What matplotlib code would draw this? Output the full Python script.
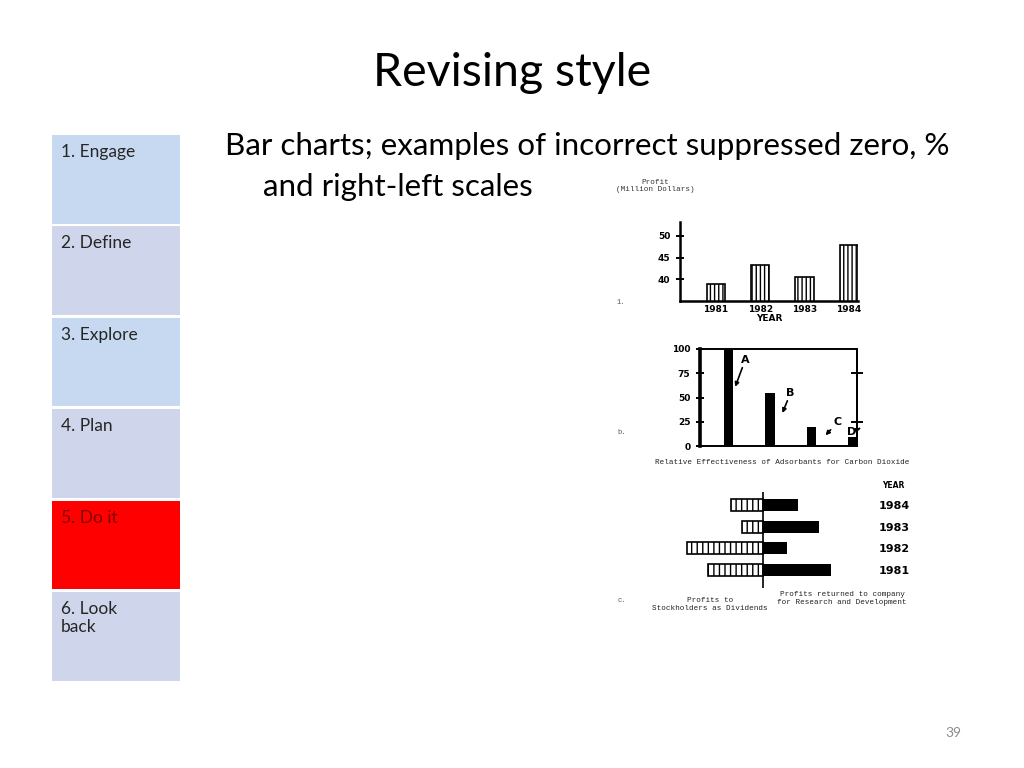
import matplotlib.pyplot as plt
from matplotlib.patches import Rectangle

W, H = 1024, 768

# sidebar steps
steps = ['1. Engage', '2. Define', '3. Explore', '4. Plan', '5. Do it', '6. Look\nback']
step_colors = ['#c6d9f1', '#cfd5ea', '#c6d9f1', '#cfd5ea', '#ff0000', '#cfd5ea']
step_text = ['#262626', '#262626', '#262626', '#262626', '#800000', '#262626']

# chart a: profit with suppressed zero
years = ['1981', '1982', '1983', '1984']
profit = [38.9, 43.4, 40.6, 47.8]

# chart b: percent scale
adsorbents = ['A', 'B', 'C', 'D']
effectiveness = [100, 55, 20, 9]

# chart c: right-left scales (1981..1984)
dividends = [13.75, 19.0, 5.25, 8.0]
research = [17.0, 6.0, 14.0, 8.75]

sans = 'Lato'
mono = 'Liberation Mono'


def rect(l, t, r, b):
    # pixel box -> figure fraction
    return [l / W, 1 - b / H, (r - l) / W, (b - t) / H]


fig = plt.figure(figsize=(W / 100, H / 100), dpi=100)
fig.patch.set_facecolor('white')

bg = fig.add_axes([0, 0, 1, 1])
bg.set_xlim(0, W)
bg.set_ylim(H, 0)
bg.axis('off')

for i, (label, fc, tc) in enumerate(zip(steps, step_colors, step_text)):
    top = 135 + i * 91.4
    bg.add_patch(Rectangle((52, top), 128, 88.5, fc=fc, ec='none'))
    bg.text(61, top + 9, label, va='top', ha='left', fontsize=12.5,
            color=tc, family=sans, linespacing=1.15)

bg.text(512, 73, 'Revising style', ha='center', va='center', fontsize=33.5, family=sans, color='black')
bg.text(225, 146, 'Bar charts; examples of incorrect suppressed zero, %', ha='left', va='center',
        fontsize=22.6, family=sans, color='black')
bg.text(263, 187, 'and right-left scales', ha='left', va='center',
        fontsize=22.6, family=sans, color='black')
bg.text(953, 733, '39', ha='center', va='center', fontsize=10, family=sans, color='#8c8c8c')

# scan labels
for y, s in [(302, '1.'), (432, 'b.'), (600, 'c.')]:
    bg.text(617, y, s, ha='left', va='center', fontsize=5, family=mono, color='#555555')

bg.text(655, 186, 'Profit\n(Million Dollars)', ha='center', va='center', fontsize=5.5,
        family=mono, color='#333333', linespacing=1.1)

# --- chart a ---
ax1 = fig.add_axes(rect(680, 222, 858, 301))
x = range(len(years))
ax1.bar(x, profit, width=0.41, color='white', edgecolor='black', linewidth=1.2,
        hatch='||||')
ax1.set_ylim(35, 53.2)
ax1.set_xlim(-0.81, 3.21)
ax1.spines[['top', 'right']].set_visible(False)
ax1.spines[['left', 'bottom']].set_linewidth(1.8)
ax1.set_yticks([40, 45, 50])
ax1.set_yticklabels(['40', '45', '50'], fontsize=6.5, fontweight='bold')
ax1.tick_params(axis='y', direction='inout', length=6, width=1.4, pad=4)
ax1.set_xticks(list(x))
ax1.set_xticklabels(years, fontsize=6.5, fontweight='bold')
ax1.tick_params(axis='x', length=0, pad=3)
ax1.set_xlabel('YEAR', fontsize=6.5, fontweight='bold', labelpad=0)
ax1.patch.set_alpha(0)

# --- chart b ---
ax2 = fig.add_axes(rect(700, 349, 857, 446))
ax2.bar(range(len(adsorbents)), effectiveness, width=0.22, color='black')
ax2.set_ylim(0, 100)
ax2.set_xlim(-0.69, 3.1)
for sp in ax2.spines.values():
    sp.set_linewidth(1.4)
ax2.spines['left'].set_linewidth(2.6)
ax2.set_xticks([])
ax2.set_yticks([0, 25, 50, 75, 100])
ax2.set_yticklabels(['0', '25', '50', '75', '100'], fontsize=6.5, fontweight='bold')
ax2.tick_params(axis='y', direction='inout', length=6, width=1.4, pad=4)
sec = ax2.secondary_yaxis('right')
sec.set_yticks([25, 75])
sec.set_yticklabels([])
sec.tick_params(direction='inout', length=8, width=1.4)
sec.spines['right'].set_linewidth(1.4)

# arrow tip relative to each bar (x shift, drop below top) and label offset in points
tip_dx = [0.16, 0.3, 0.34, 0.18]
tip_drop = [39, 21, 9, -9.5]
label_offsets = [(7.2, 19.4), (5.8, 14.4), (8.6, 9.4), (-6, -3)]
for i, (name, val) in enumerate(zip(adsorbents, effectiveness)):
    ax2.annotate(name, xy=(i + tip_dx[i], val - tip_drop[i]), xycoords='data',
                 xytext=label_offsets[i], textcoords='offset points',
                 ha='center', va='center', fontsize=8, fontweight='bold',
                 annotation_clip=False,
                 arrowprops=dict(arrowstyle='-|>', color='black', lw=1.2,
                                 mutation_scale=6, shrinkA=0, shrinkB=0))

bg.text(782, 462, 'Relative Effectiveness of Adsorbants for Carbon Dioxide', ha='center',
        va='center', fontsize=5.5, family=mono, color='#222222')

# --- chart c ---
ax3 = fig.add_axes(rect(683, 492, 868, 588))
rows = range(len(years))
ax3.barh(rows, [-d for d in dividends], height=0.55, color='white', edgecolor='black',
         linewidth=1.2, hatch='|||')
ax3.barh(rows, research, height=0.55, color='black')
ax3.axvline(0, color='black', lw=1.2)
ax3.set_xlim(-20, 26.25)
ax3.set_ylim(-0.83, 3.6)
for sp in ax3.spines.values():
    sp.set_visible(False)
ax3.set_xticks([])
ax3.yaxis.tick_right()
ax3.set_yticks(list(rows))
ax3.set_yticklabels(years, fontsize=8, fontweight='bold')
ax3.tick_params(axis='y', length=0, pad=8)
ax3.patch.set_alpha(0)

bg.text(893, 486, 'YEAR', ha='center', va='center', fontsize=5.5, fontweight='bold')
bg.text(710, 604, 'Profits to\nStockholders as Dividends', ha='center', va='center',
        fontsize=5.5, family=mono, color='#222222', linespacing=1.2)
bg.text(842, 598, 'Profits returned to company\nfor Research and Development', ha='center',
        va='center', fontsize=5.5, family=mono, color='#222222', linespacing=1.2)

fig.savefig('out.png', dpi=100, facecolor='white')
